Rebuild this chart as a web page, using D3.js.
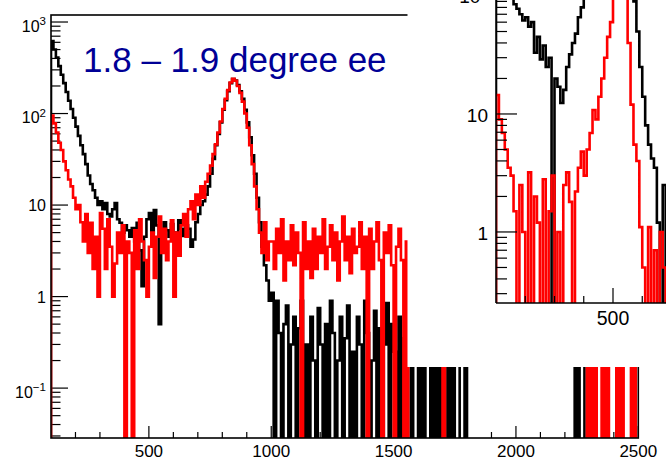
<!DOCTYPE html>
<html>
<head>
<meta charset="utf-8">
<script src="https://cdn.jsdelivr.net/npm/d3@7"></script>
<style>
  body { margin: 0; background: #fff; }
  svg { display: block; font-family: "Liberation Sans", Arial, Helvetica, sans-serif; }
</style>
</head>
<body>
<div id="chart"></div>
<script>
// all histograms use 10-wide bins
var binWidth = 10;

// main pad, bins from 100 to 2500
var mainStart = 100;
var mainBlack = [
    620, 500, 410, 330, 265, 215, 172, 138, 112, 90,          // 100
    72, 57, 45, 36, 28, 21, 17, 14.5, 12, 10,                 // 200
    11, 9, 10.5, 8, 7.5, 9, 10.5, 7, 6.4, 5,                  // 300
    6, 5.3, 4.5, 5.6, 4, 6.4, 3.2, 1.3, 4.5, 7,               // 400
    8.2, 5, 8.8, 6, 0.5, 4.2, 6.5, 5.3, 4.5, 6.2,             // 500
    5, 4.8, 6.8, 5.5, 4.6, 6, 5.5, 3.5, 4.2, 6.5,             // 600
    8, 10, 11, 13, 16, 22, 32, 45, 60, 80,                    // 700
    110, 140, 175, 215, 238, 230, 205, 175, 145, 110,         // 800
    80, 55, 35, 22, 12, 6.5, 3.5, 2.2, 1.5, 0.9,              // 900
    1.1, 0, 0.9, 0.4, 0, 0.5, 0.8, 0, 0.3, 0.6,               // 1000
    0, 0.45, 0.9, 0, 0.3, 0, 0.6, 0.2, 0, 0.75,               // 1100
    0.3, 0, 0.5, 0, 0.9, 0.4, 0, 0.2, 0.6, 0,                 // 1200
    0.35, 0.8, 0, 0.25, 0, 0.6, 0.3, 0, 0.9, 0.4,             // 1300
    0, 0.2, 0.7, 0, 0.45, 0, 0.3, 0.85, 0, 0.5,               // 1400
    0.25, 0, 0.6, 0, 0.35, 0.8, 0.3, 0, 0.4, 0.3,             // 1500
    0, 0.5, 0, 0.3, 0.45, 0, 0.3, 0, 0.6, 0,                  // 1600
    0.3, 0.3, 0, 0.4, 0, 0.3, 0.5, 0, 0, 0.3,                 // 1700
    0, 0, 0, 0, 0, 0, 0, 0, 0, 0,                             // 1800
    0, 0, 0, 0, 0, 0, 0, 0, 0, 0,                             // 1900
    0, 0, 0, 0, 0, 0, 0, 0, 0, 0,                             // 2000
    0, 0, 0, 0, 0, 0, 0, 0, 0, 0,                             // 2100
    0, 0, 0, 0, 0.3, 0, 0.5, 0.3, 0, 0,                       // 2200
    0, 0, 0, 0, 0, 0, 0, 0, 0, 0,                             // 2300
    0, 0, 0, 0, 0, 0, 0, 0, 0, 0                              // 2400
];
var mainRed = [
    95, 78, 62, 48, 40, 30, 24, 19, 16, 12,                   // 100
    9, 10, 6.5, 4, 8, 3, 6.4, 2, 4.5, 1,                      // 200
    8.2, 5.5, 2, 7, 3.5, 1, 2.3, 5, 3, 6,                     // 300
    0, 4, 3, 0, 5.3, 2, 7, 4, 2.5, 1,                         // 400
    3.5, 5, 1.6, 4.5, 7.5, 3, 5.5, 2.5, 4, 6.8,               // 500
    1, 5, 2.8, 6, 8, 4.5, 9, 11, 7, 13,                       // 600
    10, 16, 12, 18, 22, 27, 36, 46, 62, 82,                   // 700
    112, 145, 180, 218, 240, 228, 200, 168, 135, 100,         // 800
    70, 45, 28, 16, 9, 5, 3, 6.5, 2.5, 4,                     // 900
    4, 2, 5.5, 3, 7, 1.5, 4, 2.5, 6, 2.2,                     // 1000
    5, 3, 0, 6.5, 2, 4, 1.6, 5.5, 2, 4.5,                     // 1100
    3, 7, 2, 3.5, 6, 2.5, 5, 1.5, 4, 7.5,                     // 1200
    2.5, 4.5, 1.8, 5.5, 3, 3.5, 6.5, 2, 4.5, 0,               // 1300
    5.5, 2, 4, 6.5, 2.5, 0, 5, 3, 6, 2.2,                     // 1400
    0, 3.5, 5.5, 2.5, 0, 4, 0, 0, 0, 0,                       // 1500
    0, 0, 0, 0, 0, 0, 0, 0, 0, 0,                             // 1600
    0.4, 0, 0, 0, 0, 0, 0, 0, 0, 0,                           // 1700
    0, 0, 0, 0, 0, 0, 0, 0, 0, 0,                             // 1800
    0, 0, 0, 0, 0, 0, 0, 0, 0, 0,                             // 1900
    0, 0, 0, 0, 0, 0, 0, 0, 0, 0,                             // 2000
    0, 0, 0, 0, 0, 0, 0, 0, 0, 0,                             // 2100
    0, 0, 0, 0, 0, 0, 0, 0, 0, 0.3,                           // 2200
    0, 0.4, 0, 0.3, 0.3, 0, 0.5, 0, 0.3, 0.4,                 // 2300
    0.3, 0, 0.4, 0, 0.3, 0.5, 0.4, 0, 0.3, 0                  // 2400
];

// inset pad (top right), bins from 100
var insetStart = 100;
var insetBlack = [
    260, 220, 180, 150, 120, 100, 85, 78, 70, 62,             // 100
    66, 55, 60, 33, 45, 29, 38, 25, 30, 0,                    // 200
    20, 17, 12.4, 16, 25, 32, 40, 48, 66, 80,                 // 300
    95, 110, 130, 160, 200, 260, 320, 380, 420, 400,          // 400
    350, 280, 210, 150, 110, 105, 120, 90, 50, 25,            // 500
    14, 8, 5.5, 4.2, 3.5, 1.2, 0, 2.5                         // 600
];
var insetRed = [
    14.5, 9, 6.9, 5, 3.5, 3, 1.5, 0, 2.5, 1,                  // 100
    0, 3.2, 0, 2, 1.2, 0, 2.8, 0, 1.5, 3,                     // 200
    0, 1, 0, 2.5, 3.2, 1.8, 0, 2.2, 3.5, 4.8,                 // 300
    3, 5, 6.9, 10.8, 9, 14, 20, 30, 45, 60,                   // 400
    100, 140, 170, 160, 120, 40, 12, 5.5, 4, 1.1,             // 500
    0.5, 0, 1.1, 0, 0.7, 0, 1, 0.5                            // 600
];

// ticks and labels
var mainXTicks = [500, 1000, 1500, 2000, 2500];
var mainXLabels = ["500", "1000", "1500", "2000", "2500"];
var mainYTicks = [0.1, 1, 10, 100, 1000];
var mainYBase = ["10", "1", "10", "10", "10"];
var mainYSup = ["\u22121", "", "", "2", "3"];
var insetXTicks = [500];
var insetXLabels = ["500"];
var insetYTicks = [1, 10, 100];
var insetYBase = ["1", "10", "10"];
var insetYSup = ["", "", "2"];
var titleText = "1.8 \u2013 1.9 degree ee";

var W = 666, H = 463;
var histWidth = 2.6;
var svg = d3.select("#chart").append("svg")
    .attr("width", W)
    .attr("height", H);

// scales
var xMain = d3.scaleLinear().domain([100, 2500]).range([51, 638.3]);
var yMain = d3.scaleLog().domain([0.0285, 1193]).range([438, 15]);
var xInset = d3.scaleLinear().domain([100, 700]).range([496, 671.5]);
var yInset = d3.scaleLog().domain([0.25, 1000]).range([303, -122]);

// step outline; empty bins drop just under the frame bottom and get clipped
function histPath(values, start, x, y) {
    var floor = y.domain()[0];
    var below = y(floor) + 3;
    var yOf = v => (v > 0 ? y(Math.max(v, floor)) : below);
    var pts = [[x(start), below]];
    values.forEach(function(v, i) {
        var yy = yOf(v);
        pts.push([x(start + i * binWidth), yy]);
        pts.push([x(start + (i + 1) * binWidth), yy]);
    });
    pts.push([x(start + values.length * binWidth), below]);
    return d3.line()(pts);
}

function logMinors(majors) {
    var out = [];
    majors.forEach(function(m) {
        for (var k = 2; k <= 9; k++) out.push(m * k);
    });
    return out;
}

function yLabels(g, ticks, bases, sups, y, xRight, size, offPlain, offSup) {
    ticks.forEach(function(v, i) {
        var t = g.append("text")
            .attr("x", xRight)
            .attr("y", y(v) + (sups[i] ? offSup : offPlain))
            .attr("text-anchor", "end")
            .style("font-size", size + "px");
        t.append("tspan").text(bases[i]);
        if (sups[i]) {
            t.append("tspan")
                .attr("dy", -size * 0.4)
                .style("font-size", (size * 0.72) + "px")
                .text(sups[i]);
        }
    });
}

var defs = svg.append("defs");
defs.append("clipPath").attr("id", "clip-main")
    .append("rect")
    .attr("x", 51).attr("y", 15)
    .attr("width", 638.3 - 51).attr("height", 423);
defs.append("clipPath").attr("id", "clip-inset")
    .append("rect")
    .attr("x", 496).attr("y", 0)
    .attr("width", W - 496).attr("height", 303);

// ---------- main pad ----------
var main = svg.append("g");

main.append("path")
    .attr("clip-path", "url(#clip-main)")
    .attr("d", histPath(mainBlack, mainStart, xMain, yMain))
    .attr("fill", "none")
    .attr("stroke", "#000")
    .attr("stroke-width", histWidth);

// x ticks
var mainXMinor = d3.range(200, 2500, 100).filter(v => v % 500 !== 0);
main.append("g").selectAll("line")
    .data(mainXMinor).enter().append("line")
    .attr("x1", d => xMain(d)).attr("x2", d => xMain(d))
    .attr("y1", 438).attr("y2", 432)
    .attr("stroke", "#000").attr("stroke-width", 1.2);
main.append("g").selectAll("line")
    .data(mainXTicks).enter().append("line")
    .attr("x1", d => xMain(d)).attr("x2", d => xMain(d))
    .attr("y1", 438).attr("y2", 426)
    .attr("stroke", "#000").attr("stroke-width", 1.2);
main.append("g").selectAll("text")
    .data(mainXTicks).enter().append("text")
    .attr("x", d => xMain(d))
    .attr("y", 457)
    .attr("text-anchor", "middle")
    .style("font-size", "17px")
    .text((d, i) => mainXLabels[i]);

// y ticks
var mainYMinor = logMinors([0.01, 0.1, 1, 10, 100])
    .filter(v => v >= 0.0285 && v <= 1193);
main.append("g").selectAll("line")
    .data(mainYMinor).enter().append("line")
    .attr("x1", 51).attr("x2", 60.5)
    .attr("y1", d => yMain(d)).attr("y2", d => yMain(d))
    .attr("stroke", "#000").attr("stroke-width", 1.2);
main.append("g").selectAll("line")
    .data(mainYTicks).enter().append("line")
    .attr("x1", 51).attr("x2", 68)
    .attr("y1", d => yMain(d)).attr("y2", d => yMain(d))
    .attr("stroke", "#000").attr("stroke-width", 1.2);
yLabels(main.append("g"), mainYTicks, mainYBase, mainYSup, yMain, 46, 16, 6, 9.5);

main.append("path")
    .attr("clip-path", "url(#clip-main)")
    .attr("d", histPath(mainRed, mainStart, xMain, yMain))
    .attr("fill", "none")
    .attr("stroke", "#ff0000")
    .attr("stroke-width", histWidth);

// frame
main.append("rect")
    .attr("x", 51).attr("y", 15)
    .attr("width", 638.3 - 51).attr("height", 438 - 15)
    .attr("fill", "none")
    .attr("stroke", "#000")
    .attr("stroke-width", 1.6);

// title text
main.append("text")
    .attr("x", 83)
    .attr("y", 72)
    .style("font-size", "35px")
    .attr("fill", "#000096")
    .text(titleText);

// ---------- inset pad ----------
var inset = svg.append("g");

inset.append("rect")
    .attr("x", 407.5).attr("y", 0)
    .attr("width", W - 407.5).attr("height", 367)
    .attr("fill", "#fff");

inset.append("path")
    .attr("clip-path", "url(#clip-inset)")
    .attr("d", histPath(insetBlack, insetStart, xInset, yInset))
    .attr("fill", "none")
    .attr("stroke", "#000")
    .attr("stroke-width", histWidth);

inset.append("path")
    .attr("clip-path", "url(#clip-inset)")
    .attr("d", histPath(insetRed, insetStart, xInset, yInset))
    .attr("fill", "none")
    .attr("stroke", "#ff0000")
    .attr("stroke-width", histWidth);

// inset axes
inset.append("line")
    .attr("x1", 496).attr("x2", 496).attr("y1", 0).attr("y2", 303)
    .attr("stroke", "#000").attr("stroke-width", 1.6);
inset.append("line")
    .attr("x1", 496).attr("x2", W).attr("y1", 303).attr("y2", 303)
    .attr("stroke", "#000").attr("stroke-width", 1.6);

var insetXMinor = [200, 300, 400, 600];
inset.append("g").selectAll("line")
    .data(insetXMinor).enter().append("line")
    .attr("x1", d => xInset(d)).attr("x2", d => xInset(d))
    .attr("y1", 303).attr("y2", 296)
    .attr("stroke", "#000").attr("stroke-width", 1.2);
inset.append("g").selectAll("line")
    .data(insetXTicks).enter().append("line")
    .attr("x1", d => xInset(d)).attr("x2", d => xInset(d))
    .attr("y1", 303).attr("y2", 288)
    .attr("stroke", "#000").attr("stroke-width", 1.2);
inset.append("g").selectAll("text")
    .data(insetXTicks).enter().append("text")
    .attr("x", d => xInset(d))
    .attr("y", 325)
    .attr("text-anchor", "middle")
    .style("font-size", "19.5px")
    .text((d, i) => insetXLabels[i]);

var insetYMinor = logMinors([0.1, 1, 10]).filter(v => v >= 0.25);
inset.append("g").selectAll("line")
    .data(insetYMinor).enter().append("line")
    .attr("x1", 496).attr("x2", 507)
    .attr("y1", d => yInset(d)).attr("y2", d => yInset(d))
    .attr("stroke", "#000").attr("stroke-width", 1.2);
inset.append("g").selectAll("line")
    .data(insetYTicks).enter().append("line")
    .attr("x1", 496).attr("x2", 517)
    .attr("y1", d => yInset(d)).attr("y2", d => yInset(d))
    .attr("stroke", "#000").attr("stroke-width", 1.2);
// the 10^2 label sits mostly above the window, as in the reference
yLabels(inset.append("g"), insetYTicks, insetYBase, insetYSup, yInset, 488, 19, 8, 7);
</script>
</body>
</html>
